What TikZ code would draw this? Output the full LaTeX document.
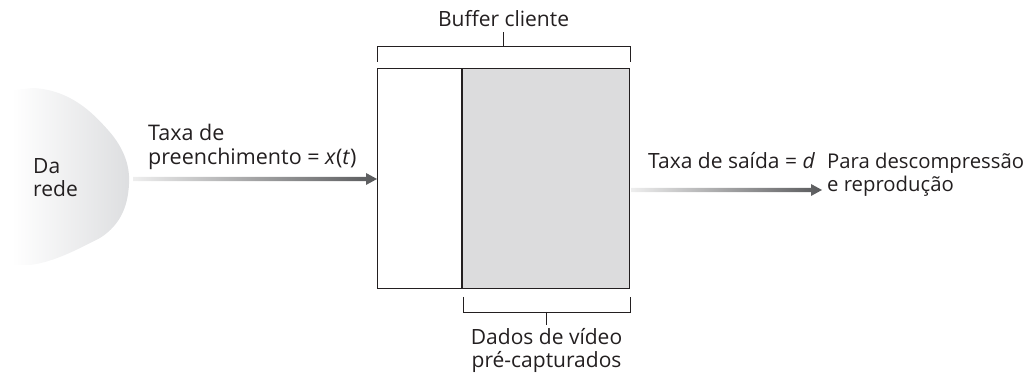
\documentclass[tikz,border=0pt]{standalone}
\usepackage{fontspec}
\setmainfont{Open Sans}
\usetikzlibrary{calc}
\definecolor{txt}{HTML}{231F20}
\definecolor{boxgray}{HTML}{DCDCDD}
\definecolor{cloudgray}{HTML}{DDDEE0}
\definecolor{arrowdark}{HTML}{58595B}
\definecolor{arrowlight}{HTML}{EEEEEE}
\tikzset{
  lbl/.style={font=\fontsize{21}{23}\selectfont, text=txt, inner sep=0pt, align=left},
  lblc/.style={font=\fontsize{21}{23}\selectfont, text=txt, inner sep=0pt, align=center},
  bracket/.style={draw=txt, line width=0.9pt},
  boxline/.style={draw=txt, line width=1.1pt},
}
\begin{document}
\begin{tikzpicture}[x=1pt,y=1pt]
\useasboundingbox (0,0) rectangle (1029,374);
% cloud
\shade[left color=white, right color=cloudgray]
  (12,284) -- (33,286) .. controls (70,284) and (92,262) .. (108,244)
  .. controls (126,224) and (130,205) .. (129,190)
  .. controls (128,170) and (122,150) .. (100,136)
  .. controls (80,126) and (55,112) .. (30,109) -- (12,109) -- cycle;
\node[lbl, anchor=base west] (darede) at (33,177) {Da\\rede};
% buffer box
\coordinate (bl) at (377,85);
\coordinate (tr) at (629,305);
\coordinate (dv) at (462,305);
\fill[boxgray] (dv |- bl) rectangle (tr);
\node[boxline, fill=none, minimum width=252pt, minimum height=220pt, inner sep=0pt, anchor=south west] (buf) at (bl) {};
\draw[boxline] (dv) -- (dv |- bl);
% top bracket
\draw[bracket] (buf.north west) ++(0,6) coordinate (tbl) -- ++(0,15) coordinate (tbl2) -- (tbl2 -| buf.north east) -- ++(0,-15);
\coordinate (ttick) at ($(tbl2)!0.5!(tbl2 -| buf.north east)$);
\draw[bracket] (ttick) -- ++(0,15) coordinate (ttop);
\node[lblc, anchor=base] (bufc) at ($(ttop)+(0,5)$) {Buffer cliente};
% bottom bracket
\draw[bracket] ($(dv |- bl)+(1,-8)$) coordinate (bb1) -- ++(0,-15) coordinate (bb2) -- (bb2 -| buf.south east) -- ++(0,15);
\coordinate (btick) at ($(bb2)!0.5!(bb2 -| buf.south east)$);
\draw[bracket] (btick) -- ++(0,-13) coordinate (bbot);
\node[lblc, anchor=base] (dados) at ($(btick |- 0,6)$) {Dados de vídeo\\pré-capturados};
% input arrow
\coordinate (ia) at (133,195);
\coordinate (ib) at (buf.west |- ia);
\shade[left color=arrowlight, right color=arrowdark]
  ($(ia)+(0,2.2)$) -- ($(ib)+(-11,2.2)$) -- ($(ib)+(-11,6)$) -- (ib) -- ($(ib)+(-11,-6)$) -- ($(ib)+(-11,-2.2)$) -- ($(ia)+(0,-2.2)$) -- cycle;
\node[lbl, anchor=base west, font=\fontsize{21.5}{24.5}\selectfont] (taxain) at (148,209) {Taxa de\\preenchimento = \textit{x}(\textit{t})};
% output arrow
\coordinate (oa) at (buf.east |- 0,184);
\coordinate (ob) at (822,184);
\shade[left color=arrowlight, right color=arrowdark]
  ($(oa)+(1,2.2)$) -- ($(ob)+(-11,2.2)$) -- ($(ob)+(-11,6)$) -- (ob) -- ($(ob)+(-11,-6)$) -- ($(ob)+(-11,-2.2)$) -- ($(oa)+(1,-2.2)$) -- cycle;
\node[lbl, anchor=base west] (taxaout) at (648,205) {Taxa de saída = \textit{d}};
\node[lbl, anchor=base west, font=\fontsize{20.3}{23}\selectfont] (para) at (827,182) {Para descompressão\\e reprodução};
\end{tikzpicture}
\end{document}
